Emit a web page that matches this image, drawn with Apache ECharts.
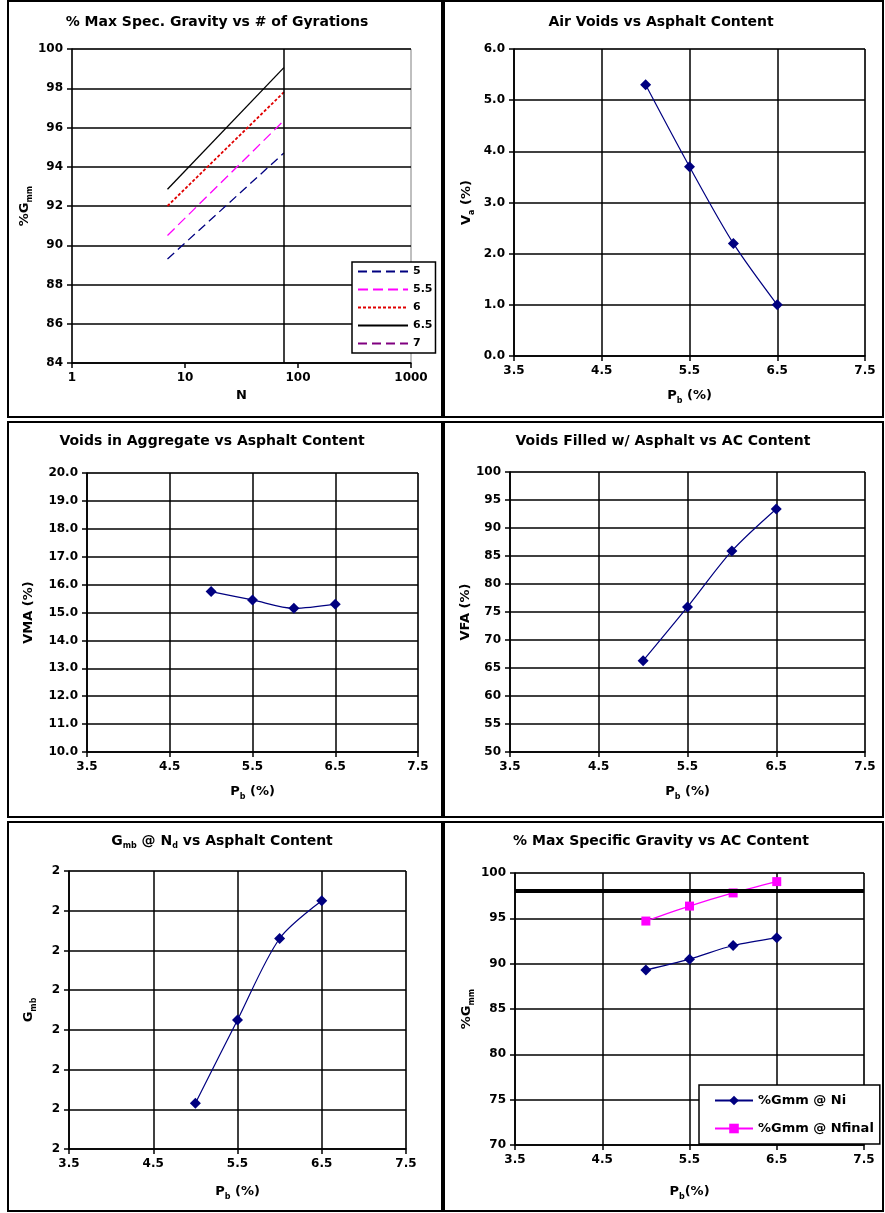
<!DOCTYPE html>
<html>
<head>
<meta charset="utf-8">
<script src="https://cdn.jsdelivr.net/npm/echarts@6/dist/echarts.min.js"></script>
<style>
  html, body { margin: 0; padding: 0; background: #fff; }
  #chart { width: 885px; height: 1213px; }
</style>
</head>
<body>
<div id="chart"></div>
<script>
// Superpave mix design summary: densification and volumetrics vs binder content

// Binder contents tested, Pb (%)
const asphaltContent = [5.0, 5.5, 6.0, 6.5];
// Gyration levels plotted on the densification chart (N initial, N design)
const gyrationLevels = [7, 75];
// Legend labels for the densification lines (binder content)
const blendLabels = ['5', '5.5', '6', '6.5', '7'];
// %Gmm at N initial and at N final
const gmmAtInitial = [89.3, 90.5, 92.0, 92.85];
const gmmAtFinal = [94.7, 96.35, 97.8, 99.05];
// Volumetric results
const airVoids = [5.3, 3.7, 2.2, 1.0];
const vma = [15.75, 15.45, 15.15, 15.3];
const vfa = [66.3, 75.9, 85.9, 93.4];
const gmb = [2.323, 2.365, 2.406, 2.425];
// Maximum allowed %Gmm
const gmmLimit = 98;

const FONT = 'DejaVu Sans';
const NAVY = '#000080';
const MAGENTA = '#FF00FF';

const lineColors = ['#000080', '#FF00FF', '#E00000', '#000000', '#800080'];
const lineDashes = [[9, 5], [10, 5], [3, 2], 'solid', [9, 5]];

const richName = {
  t: { fontFamily: FONT, fontWeight: 'bold', fontSize: 13, color: '#000', lineHeight: 18 },
  s: { fontFamily: FONT, fontWeight: 'bold', fontSize: 8, color: '#000', verticalAlign: 'bottom' }
};
const richTitle = {
  t: { fontFamily: FONT, fontWeight: 'bold', fontSize: 14, color: '#000', lineHeight: 18 },
  s: { fontFamily: FONT, fontWeight: 'bold', fontSize: 8, color: '#000', verticalAlign: 'bottom' }
};

const labelStyle = { fontFamily: FONT, fontWeight: 'bold', fontSize: 12, color: '#000' };
const gridLine = { show: true, lineStyle: { color: '#000', width: 1.5 } };
const axisLine = { show: true, onZero: false, lineStyle: { color: '#000', width: 1.5 } };
const axisTick = { show: true, inside: false, length: 5, lineStyle: { color: '#000', width: 1.5 } };

// Grids (plot areas), one per panel
const grids = [
  { left: 72, top: 49, width: 339, height: 314 },
  { left: 514, top: 49, width: 351, height: 307 },
  { left: 87, top: 473, width: 331, height: 279 },
  { left: 510, top: 472, width: 355, height: 280 },
  { left: 69, top: 871, width: 337, height: 278 },
  { left: 515, top: 873, width: 349, height: 272 }
].map(g => Object.assign({ show: true, borderColor: '#808080', borderWidth: 1, backgroundColor: '#fff' }, g));

function pbAxis(gridIndex, name, nameGap) {
  return {
    type: 'value', gridIndex, min: 3.5, max: 7.5, interval: 1,
    name, nameLocation: 'middle', nameGap,
    nameTextStyle: { rich: richName },
    axisLine, axisTick, splitLine: gridLine,
    axisLabel: Object.assign({ margin: 9, formatter: v => v.toFixed(1) }, labelStyle)
  };
}

function valAxis(gridIndex, min, max, interval, name, nameGap, fmt) {
  return {
    type: 'value', gridIndex, min, max, interval,
    name, nameLocation: 'middle', nameGap, nameRotate: 90,
    nameTextStyle: { rich: richName },
    axisLine, axisTick, splitLine: gridLine,
    axisLabel: Object.assign({ margin: 9, formatter: fmt }, labelStyle)
  };
}

const xAxes = [
  {
    type: 'log', logBase: 10, gridIndex: 0, min: 1, max: 1000,
    name: '{t|N}', nameLocation: 'middle', nameGap: 24,
    nameTextStyle: { rich: richName },
    axisLine, axisTick, splitLine: { show: false }, minorTick: { show: false },
    axisLabel: Object.assign({ margin: 9, formatter: v => String(Math.round(v)) }, labelStyle)
  },
  pbAxis(1, '{t|P}{s|b}{t| (%)}', 31),
  pbAxis(2, '{t|P}{s|b}{t| (%)}', 31),
  pbAxis(3, '{t|P}{s|b}{t| (%)}', 31),
  pbAxis(4, '{t|P}{s|b}{t| (%)}', 34),
  pbAxis(5, '{t|P}{s|b}{t|(%)}', 38)
];

const yAxes = [
  valAxis(0, 84, 100, 2, '{t|%G}{s|mm}', 33, v => String(v)),
  valAxis(1, 0, 6, 1, '{t|V}{s|a}{t| (%)}', 38, v => v.toFixed(1)),
  valAxis(2, 10, 20, 1, '{t|VMA (%)}', 49, v => v.toFixed(1)),
  valAxis(3, 50, 100, 5, '{t|VFA (%)}', 34, v => String(v)),
  valAxis(4, 2.30, 2.44, 0.02, '{t|G}{s|mb}', 31, v => v.toFixed(0)),
  valAxis(5, 70, 100, 5, '{t|%G}{s|mm}', 39, v => String(v))
];

// Densification lines: %Gmm from N initial to N design for each binder content
const densSeries = blendLabels.map((label, i) => ({
  name: label,
  type: 'line',
  xAxisIndex: 0, yAxisIndex: 0,
  data: i < gmmAtInitial.length
    ? [[gyrationLevels[0], gmmAtInitial[i]], [gyrationLevels[1], gmmAtFinal[i]]]
    : [],
  symbol: 'none',
  lineStyle: { color: lineColors[i], width: i === 2 ? 1.8 : 1.3, type: lineDashes[i] },
  itemStyle: { color: lineColors[i] },
  silent: true,
  z: 3
}));
// Vertical line at N design
densSeries[3].markLine = {
  silent: true, symbol: 'none', label: { show: false },
  lineStyle: { color: '#000', width: 1.5, type: 'solid' },
  data: [{ xAxis: gyrationLevels[1] }]
};

function pbSeries(idx, name, values, color, symbol, size) {
  return {
    name, type: 'line', xAxisIndex: idx, yAxisIndex: idx,
    data: asphaltContent.map((p, i) => [p, values[i]]),
    smooth: 0.3,
    symbol, symbolSize: size,
    lineStyle: { color, width: 1.2 },
    itemStyle: { color },
    z: 4
  };
}

const gmmNi = pbSeries(5, '%Gmm @ Ni', gmmAtInitial, NAVY, 'diamond', 11);
const gmmNf = pbSeries(5, '%Gmm @ Nfinal', gmmAtFinal, MAGENTA, 'rect', 9);
gmmNf.markLine = {
  silent: true, symbol: 'none', label: { show: false },
  lineStyle: { color: '#000', width: 4, type: 'solid' },
  data: [{ yAxis: gmmLimit }]
};

const series = densSeries.concat([
  pbSeries(1, 'Va', airVoids, NAVY, 'diamond', 11),
  pbSeries(2, 'VMA', vma, NAVY, 'diamond', 11),
  pbSeries(3, 'VFA', vfa, NAVY, 'diamond', 11),
  pbSeries(4, 'Gmb', gmb, NAVY, 'diamond', 11),
  gmmNi,
  gmmNf
]);

const titleStyle = { fontFamily: FONT, fontWeight: 'bold', fontSize: 14, color: '#000', rich: richTitle };
const titles = [
  { text: '% Max Spec. Gravity vs # of Gyrations', left: 217, top: 15 },
  { text: 'Air Voids vs Asphalt Content', left: 661, top: 15 },
  { text: 'Voids in Aggregate vs Asphalt Content', left: 212, top: 434 },
  { text: 'Voids Filled w/ Asphalt vs AC Content', left: 663, top: 434 },
  { text: '{t|G}{s|mb}{t| @ N}{s|d}{t| vs Asphalt Content}', left: 222, top: 832 },
  { text: '% Max Specific Gravity vs AC Content', left: 661, top: 834 }
].map(t => Object.assign({ textAlign: 'center', padding: 0, textStyle: titleStyle }, t));

const legendText = { fontFamily: FONT, fontWeight: 'bold', fontSize: 11, color: '#000' };
const legends = [
  {
    data: blendLabels, orient: 'vertical', left: 352, top: 262,
    itemWidth: 50, itemHeight: 12, itemGap: 7,
    padding: [4, 3, 4, 5],
    borderColor: '#000', borderWidth: 1.5, backgroundColor: '#fff',
    itemStyle: { opacity: 0 },
    textStyle: legendText, selectedMode: false
  },
  {
    data: ['%Gmm @ Ni', '%Gmm @ Nfinal'], orient: 'vertical', left: 699, top: 1085,
    itemWidth: 38, itemHeight: 12, itemGap: 15,
    padding: [9, 6, 9, 15],
    borderColor: '#000', borderWidth: 1.5, backgroundColor: '#fff',
    textStyle: Object.assign({}, legendText, { fontSize: 13 }), selectedMode: false
  }
];

// Panel frames
const frames = [
  [8, 1, 434, 416], [444, 1, 439, 416],
  [8, 422, 434, 395], [444, 422, 439, 395],
  [8, 822, 434, 389], [444, 822, 439, 389]
].map(([x, y, w, h]) => ({
  type: 'rect', silent: true, z: -10,
  shape: { x, y, width: w, height: h },
  style: { fill: 'none', stroke: '#000', lineWidth: 2 }
}));

const chart = echarts.init(document.getElementById('chart'), null, { renderer: 'canvas' });
chart.setOption({
  animation: false,
  backgroundColor: '#fff',
  title: titles,
  legend: legends,
  grid: grids,
  xAxis: xAxes,
  yAxis: yAxes,
  series,
  graphic: frames
});
</script>
</body>
</html>
